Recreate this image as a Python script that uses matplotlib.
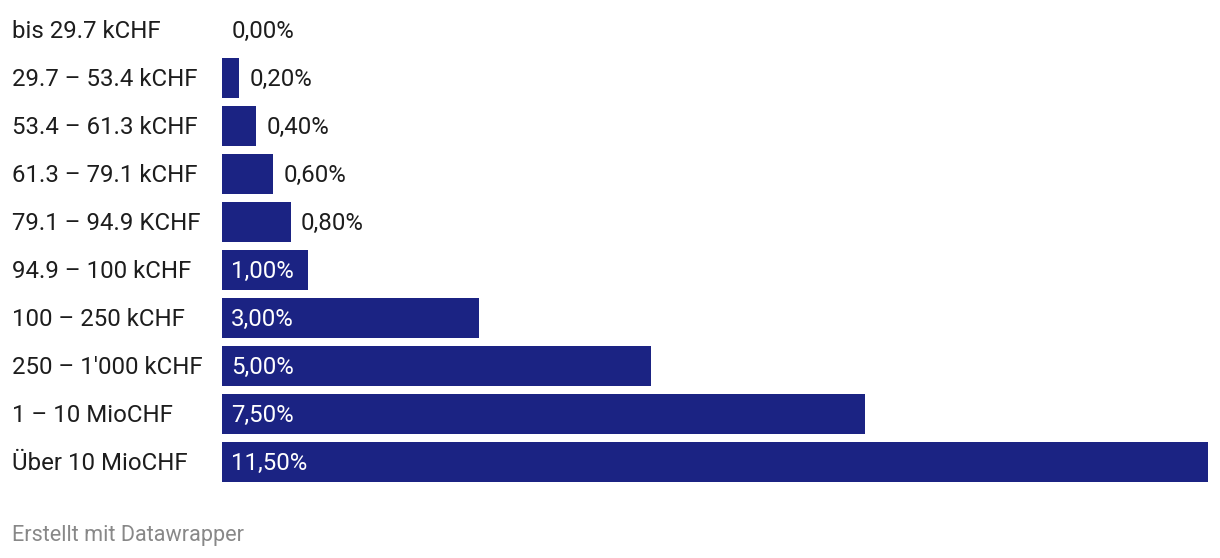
import matplotlib
matplotlib.use('Agg')
import matplotlib.pyplot as plt
from matplotlib.transforms import offset_copy

plt.rcParams['font.family'] = ['Roboto', 'DejaVu Sans']

categories = ['bis 29.7 kCHF', '29.7 – 53.4 kCHF', '53.4 – 61.3 kCHF', '61.3 – 79.1 kCHF',
              '79.1 – 94.9 KCHF', '94.9 – 100 kCHF', '100 – 250 kCHF', "250 – 1'000 kCHF",
              '1 – 10 MioCHF', 'Über 10 MioCHF']
rates = [0.0, 0.2, 0.4, 0.6, 0.8, 1.0, 3.0, 5.0, 7.5, 11.5]
value_labels = ['0,00%', '0,20%', '0,40%', '0,60%', '0,80%', '1,00%', '3,00%', '5,00%', '7,50%', '11,50%']

W, H = 1220, 558
fig = plt.figure(figsize=(W / 100, H / 100), dpi=100)
ax = fig.add_axes([222 / W, (H - 486) / H, 986 / W, 480 / H])

bar_color = '#1b2383'
text_dark = '#1d1d1d'
fs = 17.3
dy = -1.5 * 0.72  # nudge text down a little (points)

ypos = list(range(len(categories)))
ax.barh(ypos, rates, height=40 / 48, color=bar_color)
ax.set_xlim(0, max(rates))
ax.set_ylim(len(categories) - 0.5, -0.5)
ax.axis('off')

for y, v, lab, cat in zip(ypos, rates, value_labels, categories):
    if v >= 1:
        tr = offset_copy(ax.transData, fig=fig, x=9 * 0.72, y=dy, units='points')
        ax.text(0, y, lab, transform=tr, color='white', fontsize=fs, va='center', ha='left')
    elif v == 0:
        tr = offset_copy(ax.transData, fig=fig, x=10 * 0.72, y=dy, units='points')
        ax.text(0, y, lab, transform=tr, color=text_dark, fontsize=fs, va='center', ha='left')
    else:
        tr = offset_copy(ax.transData, fig=fig, x=10 * 0.72, y=dy, units='points')
        ax.text(v, y, lab, transform=tr, color=text_dark, fontsize=fs, va='center', ha='left')
    # category label at fixed pixel x
    disp_y = ax.transData.transform((0, y))[1] - 1.5
    fig.text(12 / W, disp_y / H, cat, color=text_dark, fontsize=fs, va='center', ha='left')

fig.text(12 / W, (H - 535) / H, 'Erstellt mit Datawrapper', color='#888888', fontsize=15.6, va='center', ha='left')

fig.savefig('out.png', dpi=100, facecolor='white')
